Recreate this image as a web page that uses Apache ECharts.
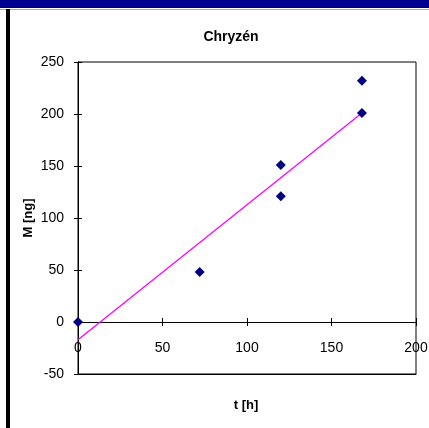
<!DOCTYPE html>
<html><head><meta charset="utf-8">
<script src="https://cdn.jsdelivr.net/npm/echarts@6/dist/echarts.min.js"></script>
<style>html,body{margin:0;padding:0;background:#fff}#c{width:429px;height:428px}</style>
</head><body><div id="c"></div>
<script>
var timeH = [0, 72, 120, 120, 168, 168];
var massNg = [0, 48, 121, 151, 201, 232];
var trendX = [0, 168];
var trendY = [-17, 201];
var xTicks = [0, 50, 100, 150, 200];
var yTicks = [-50, 0, 50, 100, 150, 200, 250];

var pts = timeH.map(function(t, i){ return [t, massNg[i]]; });
var trend = trendX.map(function(t, i){ return [t, trendY[i]]; });
var font = 'Liberation Sans, Arial, sans-serif';
var chart = echarts.init(document.getElementById('c'), null, {renderer:'canvas'});
var lineStyle = {color:'#000', width:1};
var xBase = {type:'value', min:xTicks[0], max:xTicks[xTicks.length-1], interval:50, splitLine:{show:false}};
function xa(extra){ return Object.assign({}, xBase, extra); }
var frame = [
  {id:'bar', type:'rect', shape:{x:0,y:0,width:429,height:7}, style:{fill:'#000090'}},
  {id:'bar2', type:'rect', shape:{x:0,y:7,width:429,height:1}, style:{fill:'#000'}},
  {id:'bar3', type:'rect', shape:{x:0,y:9,width:429,height:1}, style:{fill:'#aaa'}},
  {id:'left', type:'rect', shape:{x:6,y:9,width:4,height:419}, style:{fill:'#000'}},
  {id:'xname', type:'text', x:246, y:405, style:{text:'t [h]', fontFamily:font, fontSize:13, fontWeight:'bold', fill:'#000', align:'center', verticalAlign:'middle'}},
  {id:'yname', type:'text', x:28, y:218, rotation:Math.PI/2, style:{text:'M [ng]', fontFamily:font, fontSize:13, fontWeight:'bold', fill:'#000', align:'center', verticalAlign:'middle'}}
];
chart.setOption({
  animation:false,
  backgroundColor:'#fff',
  title:{text:'Chryzén', left:226, top:25, textAlign:'center',
    textStyle:{fontFamily:font, fontSize:14, fontWeight:'bold', color:'#000'}},
  grid:{left:78, right:13, top:62, bottom:54, containLabel:false, outerBoundsMode:'none',
    show:true, borderColor:'#000', borderWidth:1, backgroundColor:'#fff'},
  xAxis:[
    xa({position:'bottom', axisLine:{show:true, onZero:false, lineStyle:lineStyle},
      axisTick:{show:false}, axisLabel:{show:false}}),
    xa({position:'top', axisLine:{onZero:true, onZeroAxisIndex:0, lineStyle:lineStyle},
      axisTick:{show:true, inside:true, length:4, lineStyle:lineStyle},
      axisLabel:{show:false}}),
    xa({position:'top', axisLine:{onZero:true, onZeroAxisIndex:1, lineStyle:lineStyle},
      axisTick:{show:true, length:4, lineStyle:lineStyle},
      axisLabel:{show:false}})
  ],
  yAxis:[{type:'value', position:'left', min:yTicks[0], max:yTicks[yTicks.length-1], interval:50,
    axisLine:{show:true, onZero:false, lineStyle:lineStyle},
    axisTick:{show:true, length:4, lineStyle:lineStyle},
    axisLabel:{margin:14, fontFamily:font, fontSize:14, color:'#000'},
    splitLine:{show:false}},
   {type:'value', position:'left', min:yTicks[0], max:yTicks[yTicks.length-1], interval:50,
    axisLine:{show:true, onZero:false, lineStyle:lineStyle},
    axisTick:{show:true, inside:true, length:4, lineStyle:lineStyle},
    axisLabel:{show:false}, splitLine:{show:false}}],
  series:[
    {type:'line', data:trend, symbol:'none', lineStyle:{color:'#FF00FF', width:1.3}, z:2},
    {type:'scatter', data:pts, symbol:'diamond', symbolSize:10, itemStyle:{color:'#000080', opacity:1}, z:3}
  ],
  graphic: frame
});
var labels = xTicks.map(function(v, i){
  var p = chart.convertToPixel({xAxisIndex:0, yAxisIndex:0}, [v, 0]);
  return {id:'xl'+i, type:'text', x:p[0], y:p[1] + 19, z:10,
    style:{text:String(v), fontFamily:font, fontSize:14, fill:'#000', align:'center', verticalAlign:'top'}};
});
chart.setOption({graphic: frame.concat(labels)});
</script></body></html>
